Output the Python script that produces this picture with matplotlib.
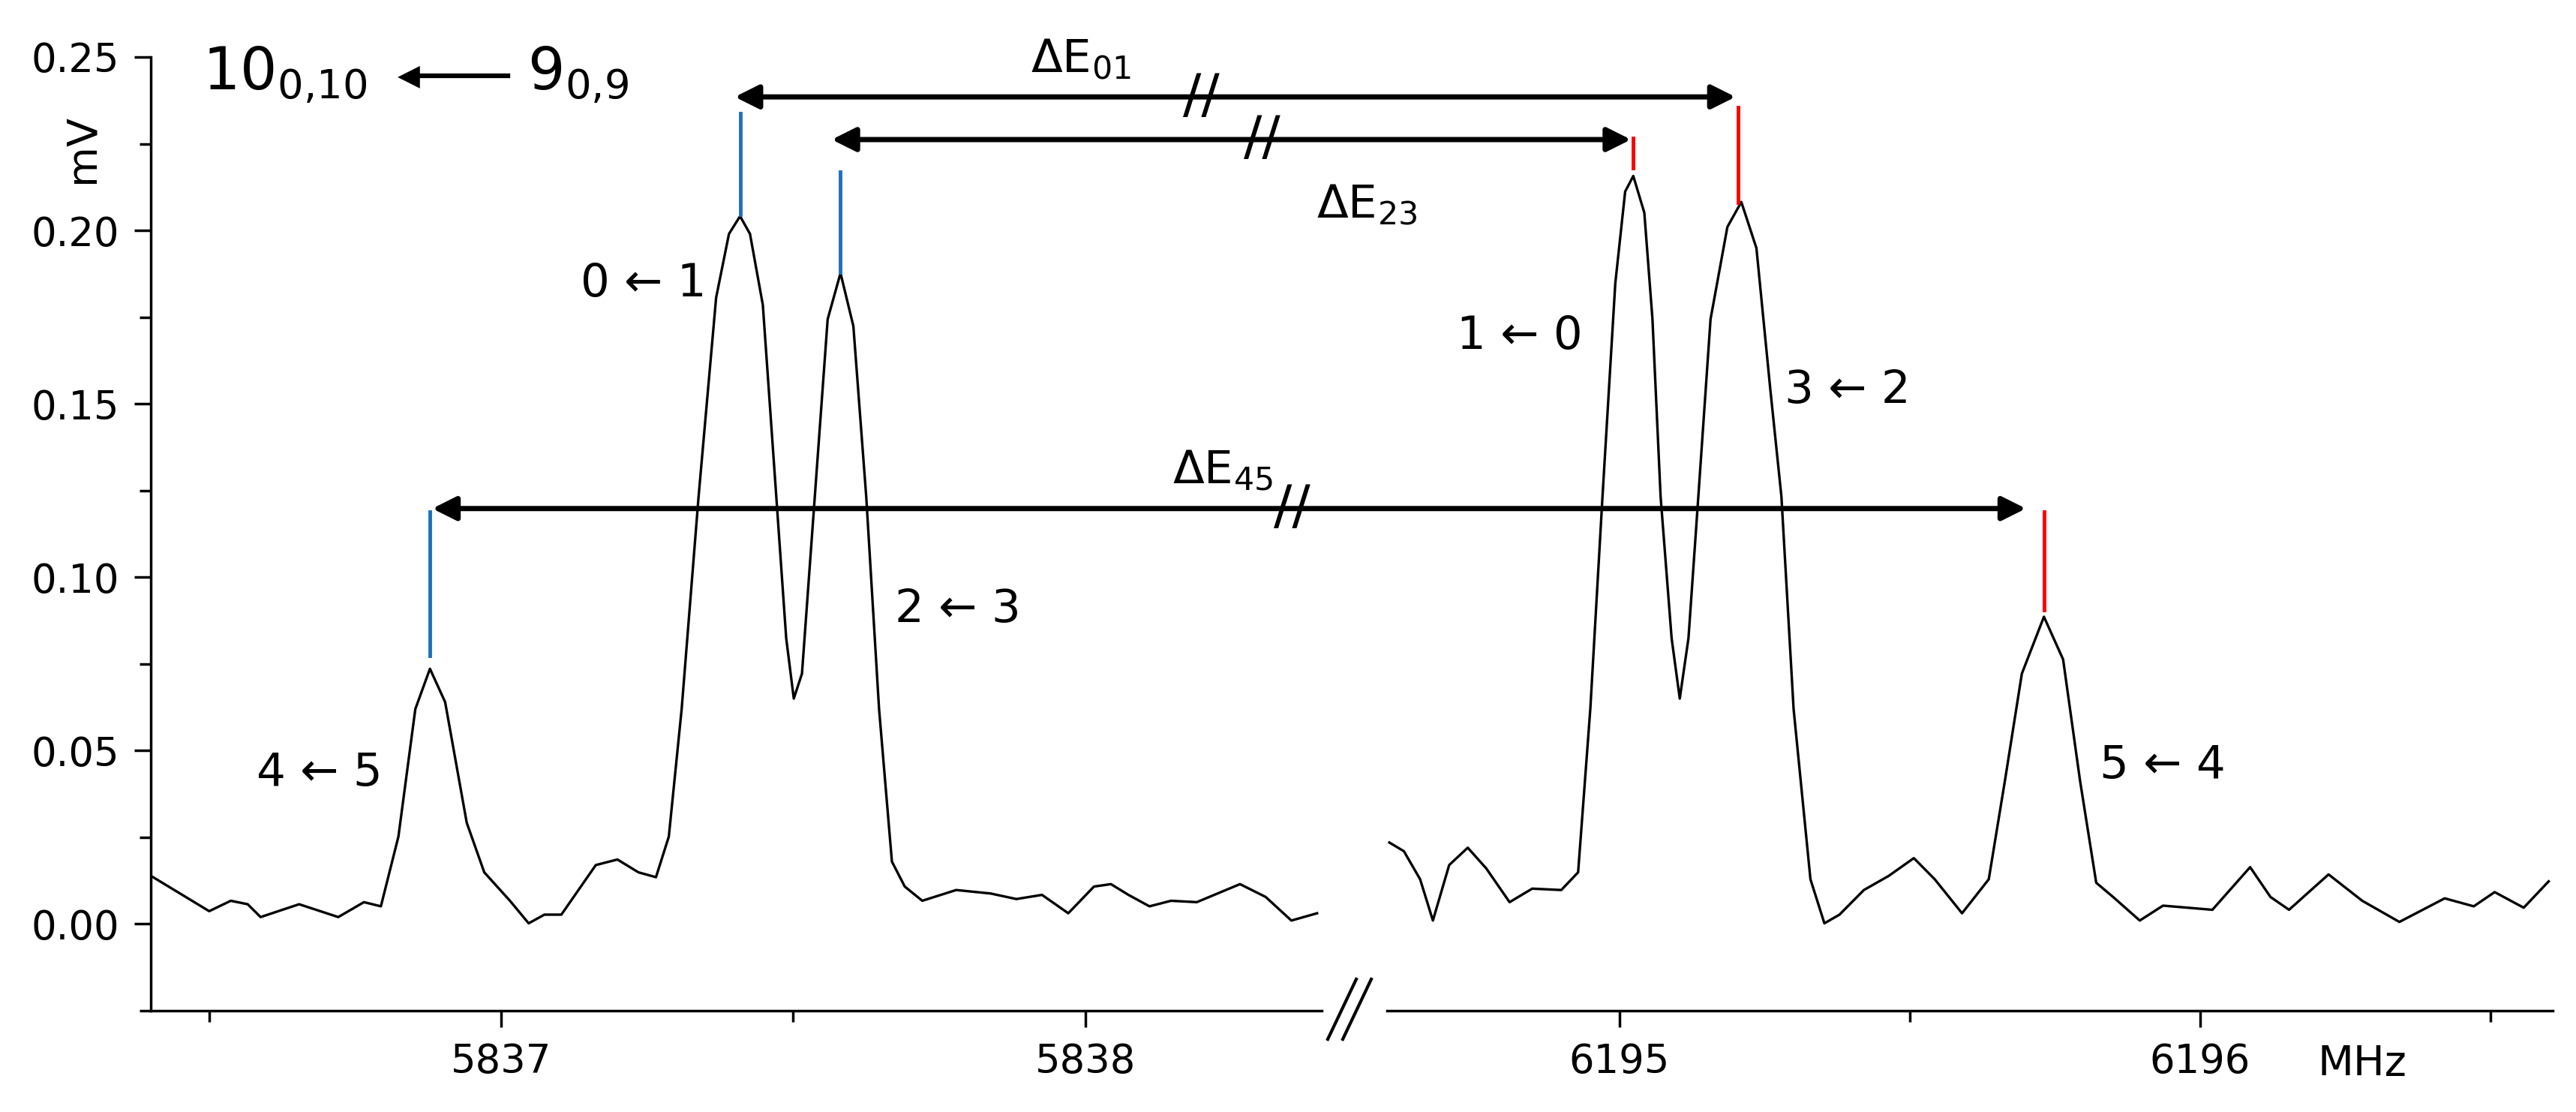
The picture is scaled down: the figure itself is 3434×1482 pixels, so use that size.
import numpy as np
import matplotlib.pyplot as plt
from matplotlib.ticker import MultipleLocator
from matplotlib.lines import Line2D

# left segment of the spectrum (MHz, mV)
f_left = [5836.404, 5836.500, 5836.537, 5836.566, 5836.588, 5836.654, 5836.721, 5836.765, 5836.794,
          5836.824, 5836.853, 5836.878, 5836.904, 5836.941, 5836.971, 5837.015, 5837.047, 5837.074,
          5837.103, 5837.162, 5837.199, 5837.235, 5837.265, 5837.287, 5837.309, 5837.338, 5837.368,
          5837.390, 5837.409, 5837.426, 5837.448, 5837.471, 5837.488, 5837.501, 5837.515, 5837.537,
          5837.559, 5837.581, 5837.603, 5837.625, 5837.647, 5837.669, 5837.691, 5837.721, 5837.779,
          5837.838, 5837.882, 5837.926, 5837.971, 5838.015, 5838.044, 5838.074, 5838.110, 5838.147,
          5838.191, 5838.265, 5838.309, 5838.353, 5838.397]
v_left = [.0135, .0037, .0067, .0057, .002, .0057, .002, .0063, .0051, .0252, .062, .0736, .064, .0292,
          .0149, .0067, .0002, .0027, .0027, .017, .0186, .0149, .0135, .0252, .062, .1233, .1806, .199,
          .2041, .199, .1785, .1233, .0824, .065, .0722, .1233, .1744, .1877, .1724, .1233, .062, .018,
          .0108, .0067, .0098, .0088, .0072, .0084, .0031, .0108, .0115, .0084, .0051, .0067, .0063,
          .0115, .0078, .001, .0031]

# right segment
f_right = [6194.604, 6194.629, 6194.657, 6194.679, 6194.707, 6194.739, 6194.771, 6194.811, 6194.850,
           6194.900, 6194.929, 6194.950, 6194.971, 6194.993, 6195.010, 6195.024, 6195.043, 6195.057,
           6195.071, 6195.090, 6195.104, 6195.119, 6195.136, 6195.157, 6195.186, 6195.210, 6195.236,
           6195.260, 6195.279, 6195.300, 6195.329, 6195.353, 6195.379, 6195.421, 6195.464, 6195.507,
           6195.543, 6195.590, 6195.636, 6195.664, 6195.693, 6195.731, 6195.764, 6195.793, 6195.821,
           6195.850, 6195.896, 6195.936, 6196.021, 6196.086, 6196.121, 6196.153, 6196.221, 6196.279,
           6196.343, 6196.421, 6196.471, 6196.507, 6196.557, 6196.600]
v_right = [.0235, .021, .0129, .001, .017, .022, .016, .0063, .0102, .0098, .0149, .062, .1233, .1847,
           .2112, .2157, .2051, .1744, .1233, .0824, .065, .0824, .1233, .1744, .201, .2082, .1949, .154,
           .1233, .062, .0129, .0002, .0027, .0098, .0139, .019, .0129, .0031, .0129, .0415, .0722, .0886,
           .0763, .0415, .0119, .0078, .001, .0053, .0041, .0164, .0078, .0041, .0143, .0067, .0006,
           .0074, .0051, .0092, .0047, .0123]

# peak markers: (freq, bottom, top)
blue_marks = [(5837.409, 0.2045, 0.2337), (5837.581, 0.188, 0.217), (5836.878, 0.0773, 0.1188)]
red_marks = [(6195.024, 0.218, 0.2266), (6195.205, 0.208, 0.2354), (6195.731, 0.0906, 0.1188)]

# arrows: (left freq, right freq, y)
arrows = [(5837.40, 6195.20, 0.2385), (5837.566, 6195.02, 0.2262), (5836.882, 6195.70, 0.1198)]

W, H = 3434, 1482
fig = plt.figure(figsize=(W / 100, H / 100), dpi=100)
ax1 = fig.add_axes([201 / W, 1 - 1347 / H, 1561 / W, 1271 / H])
ax2 = fig.add_axes([1849 / W, 1 - 1347 / H, 1554 / W, 1271 / H])

for ax in (ax1, ax2):
    ax.set_ylim(-0.025, 0.25)
    ax.spines['top'].set_visible(False)
    ax.spines['right'].set_visible(False)
    for s in ax.spines.values():
        s.set_linewidth(2.5)
    ax.xaxis.set_minor_locator(MultipleLocator(0.5))
    ax.xaxis.set_major_locator(MultipleLocator(1))
    ax.tick_params(which='major', direction='out', length=16, width=2.5, labelsize=38, pad=14)
    ax.tick_params(which='minor', direction='out', length=11, width=2.5)
    ax.patch.set_alpha(0)

ax1.set_xlim(5836.40, 5838.405)
ax2.set_xlim(6194.60, 6196.607)
ax1.yaxis.set_major_locator(MultipleLocator(0.05))
ax1.yaxis.set_minor_locator(MultipleLocator(0.025))
ax1.set_yticklabels([f'{t:.2f}' for t in ax1.get_yticks()])
ax1.set_xticklabels([str(int(t)) for t in ax1.get_xticks()])
ax2.set_xticklabels([str(int(t)) for t in ax2.get_xticks()])
ax2.spines['left'].set_visible(False)
ax2.tick_params(axis='y', which='both', left=False, labelleft=False)

ax1.plot(f_left, v_left, color='black', lw=2.4, solid_joinstyle='round')
ax2.plot(f_right, v_right, color='black', lw=2.4, solid_joinstyle='round')

for f, b, t in blue_marks:
    ax1.plot([f, f], [b, t], color='#1f6fc0', lw=3.5)
for f, b, t in red_marks:
    ax2.plot([f, f], [b, t], color='red', lw=3.5)

for fl, fr, y in arrows:
    ax2.annotate('', xy=(fr, y), xycoords=ax2.transData, xytext=(fl, y), textcoords=ax1.transData,
                 arrowprops=dict(arrowstyle='<|-|>', color='black', lw=5, mutation_scale=48,
                                 shrinkA=0, shrinkB=0), annotation_clip=False)


def ftext(x, y, s, **kw):
    fig.text(x / W, 1 - y / H, s, ha='center', va='center', **kw)


# break marks on arrows and x axis
for x, y in [(1601, 129), (1682, 186), (1722, 678)]:
    ftext(x, y, '//', fontsize=52, color='black')
for dx in (0, 20):
    fig.add_artist(Line2D([(1770 + dx) / W, (1808 + dx) / W], [1 - 1385 / H, 1 - 1305 / H],
                          color='black', lw=3))

ftext(1441, 80, r'ΔE$_{01}$', fontsize=44)
ftext(1822, 274, r'ΔE$_{23}$', fontsize=44)
ftext(1630, 628, r'ΔE$_{45}$', fontsize=44)

ftext(380, 100, r'10$_{0{,}10}$', fontsize=56)
ftext(770, 100, r'9$_{0{,}9}$', fontsize=56)
fig.add_artist(Line2D([545 / W, 677 / W], [1 - 101 / H, 1 - 101 / H], color='black', lw=4.5))
ftext(545, 101, '◀', fontsize=28)

for x, y, s in [(858, 378, '0 ← 1'), (426, 1030, '4 ← 5'), (1277, 813, '2 ← 3'),
                (2026, 449, '1 ← 0'), (2463, 520, '3 ← 2'), (2883, 1021, '5 ← 4')]:
    ftext(x, y, s, fontsize=44)

ftext(109, 198, 'mV', fontsize=40, rotation=90)
ftext(3149, 1418, 'MHz', fontsize=40)

fig.savefig('out.png', dpi=100)
